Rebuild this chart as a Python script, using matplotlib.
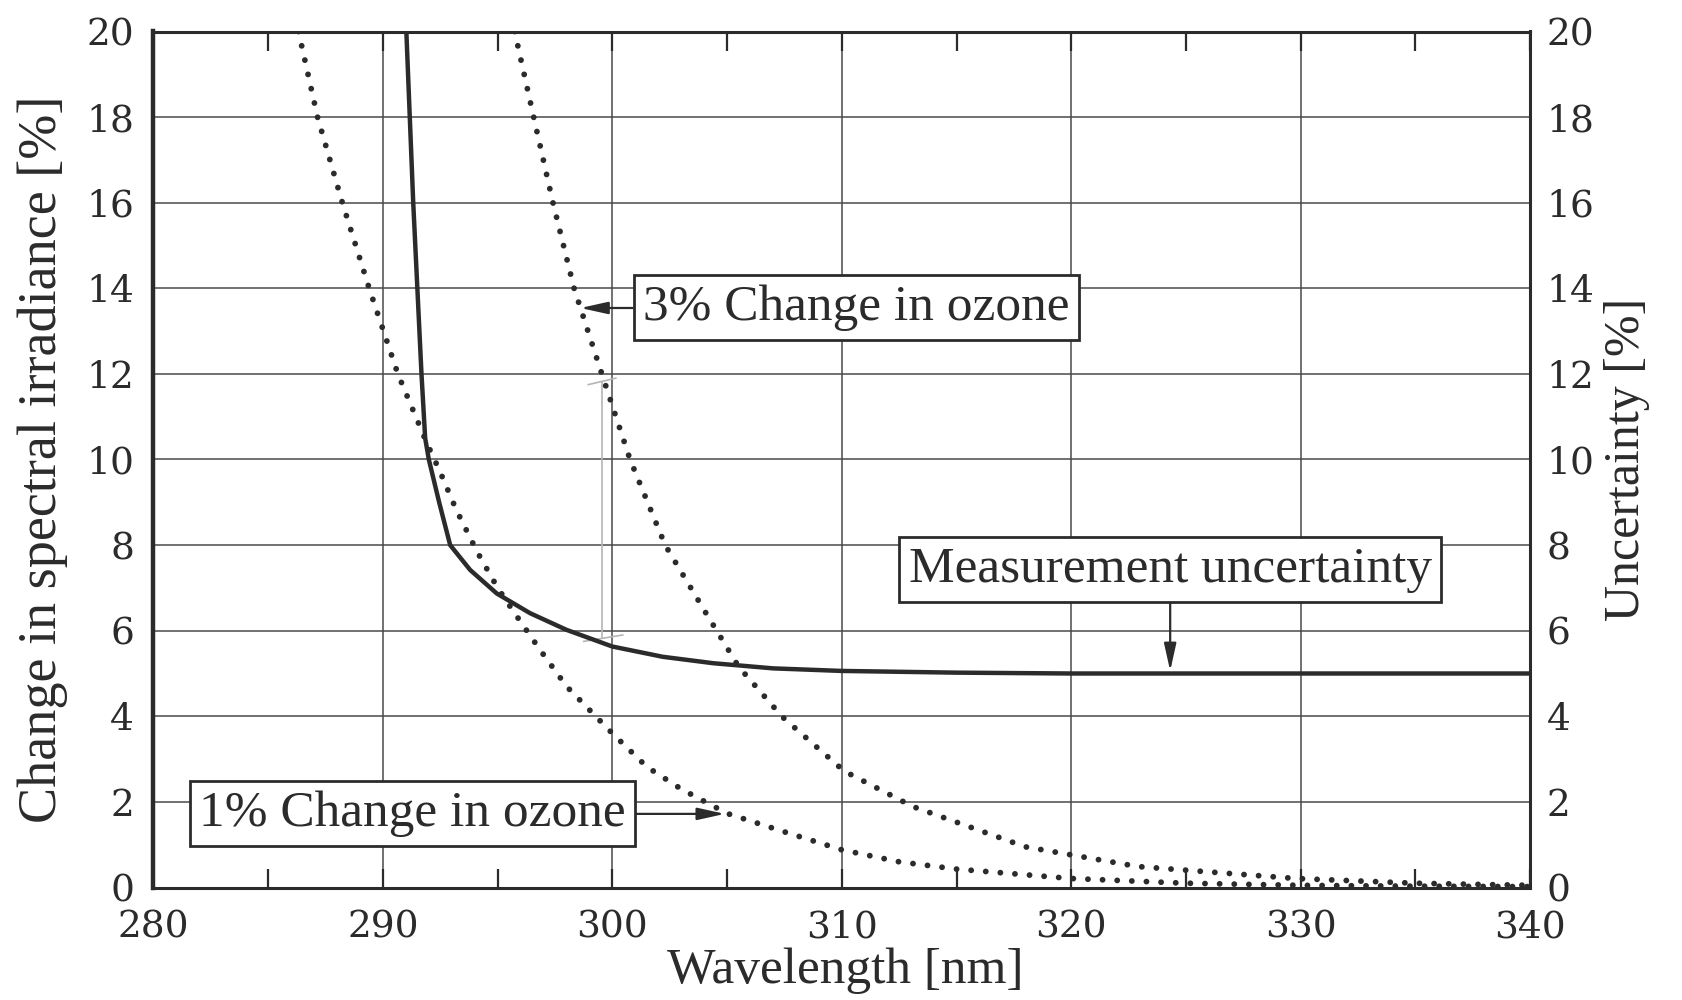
import matplotlib
matplotlib.use("Agg")
import matplotlib.pyplot as plt

# Measurement uncertainty of the spectroradiometer [%]
wl_uncertainty = [291.02, 291.32, 291.5, 291.68, 291.84, 292.0, 292.45, 292.93, 293.8,
                  294.96, 296.41, 298.0, 300.0, 302.2, 304.4, 307.0, 310.0, 315.0,
                  320.0, 330.0, 340.0]
uncertainty = [20.0, 16.0, 14.0, 12.0, 10.5, 10.0, 9.0, 8.0, 7.42,
               6.87, 6.41, 6.02, 5.63, 5.39, 5.24, 5.12, 5.06, 5.02,
               5.0, 5.0, 5.0]

# Change in spectral irradiance for a 1% change in total ozone [%]
wl_ozone1 = [286.32, 287.15, 288.23, 289.4, 290.65, 291.9, 292.5, 293.2, 294.1, 295.0,
             295.74, 296.85, 298.0, 300.0, 301.5, 303.0, 305.0, 307.5, 310.0, 312.5,
             315.0, 320.0, 325.0, 330.0, 335.0, 340.0]
ozone1 = [20.0, 18.0, 16.0, 14.0, 12.0, 10.4, 9.7, 8.82, 7.85, 7.0,
          6.41, 5.55, 4.7, 3.6, 2.82, 2.3, 1.73, 1.3, 0.88, 0.6,
          0.43, 0.21, 0.1, 0.05, 0.03, 0.02]

# Change in spectral irradiance for a 3% change in total ozone [%]
wl_ozone3 = [295.74, 296.57, 297.41, 298.33, 299.54, 300.77, 302.3, 304.0, 305.5,
             307.4, 310.1, 313.1, 318.0, 322.9, 329.8, 335.0, 340.0]
ozone3 = [20.0, 18.0, 16.0, 14.0, 12.0, 10.0, 8.0, 6.48, 5.16,
          3.99, 2.72, 1.89, 0.95, 0.49, 0.21, 0.1, 0.05]

# Faint bracket between the curves near 300 nm
bracket_wl = 299.55
bracket_low, bracket_high = 5.85, 11.8

x_ticks = [280, 290, 300, 310, 320, 330, 340]
x_minor = [285, 295, 305, 315, 325, 335]
y_ticks = list(range(0, 21, 2))

ink = "#2b2b2b"
serif_text = ["Liberation Serif", "DejaVu Serif"]
tick_font = "DejaVu Serif"

fig = plt.figure(figsize=(16.83, 10.0), dpi=100, facecolor="white")
ax = fig.add_axes([0.0912, 0.1125, 0.818, 0.856])
ax.set_facecolor("white")

ax.set_xlim(280, 340)
ax.set_ylim(0, 20)
ax.set_xticks(x_ticks)
ax.set_xticks(x_minor, minor=True)
ax.set_yticks(y_ticks)
ax.grid(True, which="major", color="#4a4a4a", lw=1.1)
ax.set_axisbelow(True)

ax.tick_params(axis="x", which="both", direction="in", top=True, bottom=True,
               length=14, width=1.6, color=ink, pad=16,
               labelsize=27, labelcolor=ink)
ax.tick_params(axis="y", which="both", length=0, pad=14, labelsize=27, labelcolor=ink)
for lab in ax.get_xticklabels() + ax.get_yticklabels():
    lab.set_fontfamily(tick_font)
for side, sp in ax.spines.items():
    sp.set_color(ink)
    sp.set_linewidth(2.2)
ax.spines["left"].set_linewidth(3.2)

# Curves
ax.plot(wl_uncertainty, uncertainty, color=ink, lw=3.2, solid_joinstyle="round",
        solid_capstyle="round", zorder=4)
dot_style = dict(color=ink, lw=4.2, linestyle=(0, (0.01, 2.5)),
                 dash_capstyle="round", zorder=4)
ax.plot(wl_ozone1, ozone1, **dot_style)
ax.plot(wl_ozone3, ozone3, **dot_style)

# Faint bracket
ax.plot([bracket_wl, bracket_wl], [bracket_low, bracket_high], color="#b5b5b5", lw=1.2, zorder=3)
ax.plot([bracket_wl - 0.6, bracket_wl + 0.6], [bracket_high - 0.05, bracket_high + 0.1],
        color="#b5b5b5", lw=1.2, zorder=3)
ax.plot([bracket_wl - 0.8, bracket_wl + 0.9], [bracket_low - 0.1, bracket_low + 0.05],
        color="#b5b5b5", lw=1.2, zorder=3)

# Labelled boxes with arrows
box = dict(boxstyle="square,pad=0.18", facecolor="white", edgecolor=ink, lw=2.0)
arrow = dict(arrowstyle="-|>,head_length=0.45,head_width=0.1", color=ink, lw=1.6,
             shrinkA=0, shrinkB=0)

ax.annotate("3% Change in ozone", xy=(298.61, 13.54), xytext=(310.62, 13.54),
            ha="center", va="center", fontsize=37, family=serif_text, color=ink,
            bbox=box, arrowprops=arrow, zorder=6)
ax.annotate("1% Change in ozone", xy=(304.9, 1.72), xytext=(291.27, 1.72),
            ha="center", va="center", fontsize=37, family=serif_text, color=ink,
            bbox=box, arrowprops=arrow, zorder=6)
ax.annotate("Measurement uncertainty", xy=(324.31, 5.06), xytext=(324.31, 7.42),
            ha="center", va="center", fontsize=37, family=serif_text, color=ink,
            bbox=box, arrowprops=arrow, zorder=6)

# Axis labels
ax.set_xlabel("Wavelength [nm]", fontsize=37, family=serif_text, color=ink, va="center")
ax.xaxis.set_label_coords(0.5024, -0.0975)
ax.set_ylabel("Change in spectral irradiance [%]", fontsize=39, family=serif_text,
              color=ink, va="center")
ax.yaxis.set_label_coords(-0.0803, 0.5)

# Right-hand axis
ax2 = ax.twinx()
ax2.set_ylim(0, 20)
ax2.set_yticks(y_ticks)
ax2.tick_params(axis="y", length=0, pad=12, labelsize=27, labelcolor=ink)
for lab in ax2.get_yticklabels():
    lab.set_fontfamily(tick_font)
for sp in ax2.spines.values():
    sp.set_visible(False)
ax2.set_ylabel("Uncertainty [%]", fontsize=36, family=serif_text, color=ink, va="center")
ax2.yaxis.set_label_coords(1.0698, 0.5)

fig.savefig("out.png", dpi=100, facecolor="white")
